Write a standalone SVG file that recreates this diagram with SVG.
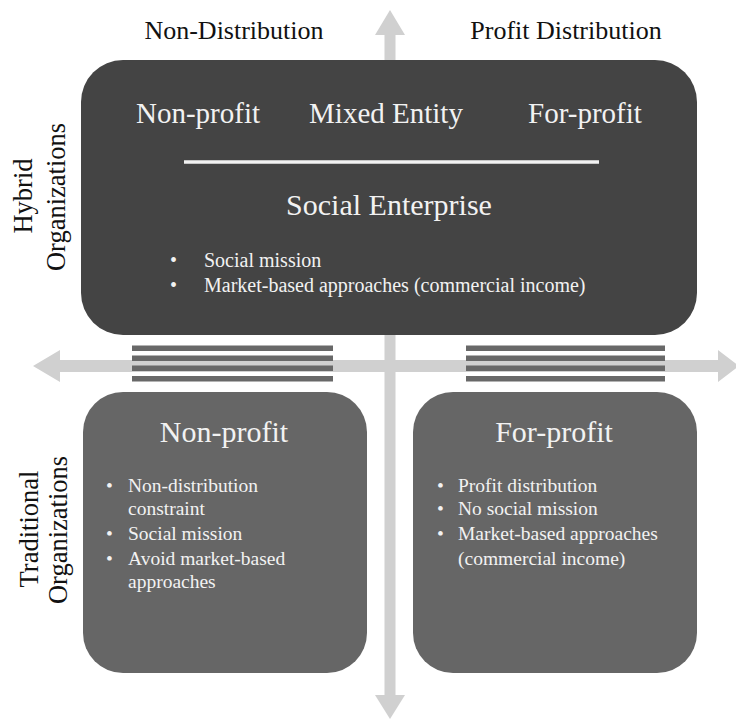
<svg xmlns="http://www.w3.org/2000/svg" width="736" height="719" viewBox="0 0 736 719">
<style>
text{font-family:"Liberation Serif","Times New Roman",serif}
.axis{fill:#d0d0d0}
.stripe{fill:#686868}
.lbl{fill:#111;font-size:26px;text-anchor:middle}
.side{fill:#111;font-size:26.5px;text-anchor:middle}
.hyb{fill:#444444}
.trad{fill:#666666}
.w{fill:#f2f2f2}
.h29{font-size:29px;text-anchor:middle}
.h30{font-size:30px;text-anchor:middle}
.b20{font-size:20px}
.b195{font-size:19.5px}
</style>
<rect width="736" height="719" fill="#ffffff"/>
<g id="connectors">
<path class="axis" d="M384.5,695 V35 H375 L390,10 L405,35 H395.5 V695 H405 L390,719 L375,695 Z"/>
<path class="axis" d="M60,360 H718 V350 L739,366 L718,382 V372 H60 V382 L33,366 L60,350 Z"/>
<g id="stripes-left">
<rect class="stripe" x="132" y="345.5" width="201" height="5.5"/>
<rect class="stripe" x="132" y="355.5" width="201" height="5.5"/>
<rect class="stripe" x="132" y="365.5" width="201" height="5.5"/>
<rect class="stripe" x="132" y="376" width="201" height="5.5"/>
</g>
<g id="stripes-right">
<rect class="stripe" x="466" y="345.5" width="199" height="5.5"/>
<rect class="stripe" x="466" y="355.5" width="199" height="5.5"/>
<rect class="stripe" x="466" y="365.5" width="199" height="5.5"/>
<rect class="stripe" x="466" y="376" width="199" height="5.5"/>
</g>
</g>
<g id="axis-labels">
<text class="lbl" x="234" y="39">Non-Distribution</text>
<text class="lbl" x="566" y="39">Profit Distribution</text>
<text class="side" transform="translate(32,196) rotate(-90)">Hybrid</text>
<text class="side" transform="translate(65,197) rotate(-90)">Organizations</text>
<text class="side" transform="translate(38,529) rotate(-90)">Traditional</text>
<text class="side" transform="translate(67,530) rotate(-90)">Organizations</text>
</g>
<g id="hybrid">
<rect class="hyb" x="81" y="60" width="616" height="275" rx="42" ry="42"/>
<text class="w h29" x="198" y="123">Non-profit</text>
<text class="w h29" x="386" y="123">Mixed Entity</text>
<text class="w h29" x="585" y="123">For-profit</text>
<line x1="184" y1="162" x2="599" y2="162" stroke="#f2f2f2" stroke-width="3.5"/>
<text class="w h30" x="389" y="215">Social Enterprise</text>
<text class="w b20" x="170" y="267">•</text>
<text class="w b20" x="204" y="267">Social mission</text>
<text class="w b20" x="170" y="292">•</text>
<text class="w b20" x="204" y="292">Market-based approaches (commercial income)</text>
</g>
<g id="traditional-nonprofit">
<rect class="trad" x="83" y="392" width="284" height="281" rx="40" ry="40"/>
<text class="w h30" x="224" y="442">Non-profit</text>
<text class="w b195" x="106" y="492">•</text>
<text class="w b195" x="128" y="492">Non-distribution</text>
<text class="w b195" x="128" y="515">constraint</text>
<text class="w b195" x="106" y="540">•</text>
<text class="w b195" x="128" y="540">Social mission</text>
<text class="w b195" x="106" y="565">•</text>
<text class="w b195" x="128" y="565">Avoid market-based</text>
<text class="w b195" x="128" y="588">approaches</text>
</g>
<g id="traditional-forprofit">
<rect class="trad" x="413" y="392" width="284" height="281" rx="40" ry="40"/>
<text class="w h30" x="554" y="442">For-profit</text>
<text class="w b195" x="437" y="492">•</text>
<text class="w b195" x="458" y="492">Profit distribution</text>
<text class="w b195" x="437" y="515">•</text>
<text class="w b195" x="458" y="515">No social mission</text>
<text class="w b195" x="437" y="540">•</text>
<text class="w b195" x="458" y="540">Market-based approaches</text>
<text class="w b195" x="458" y="565">(commercial income)</text>
</g>
</svg>
